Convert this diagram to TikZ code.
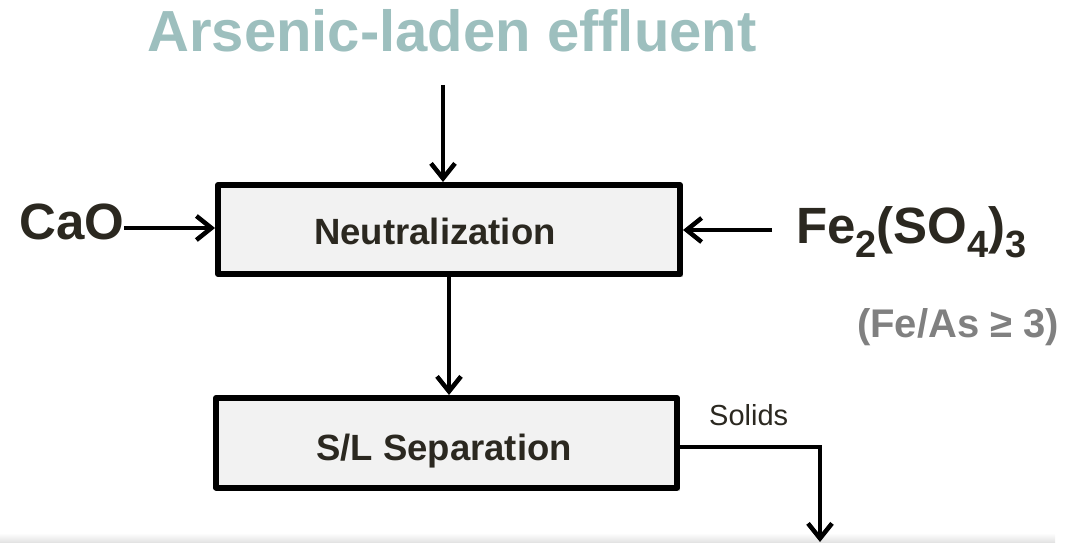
\documentclass[tikz,border=0pt]{standalone}
\usepackage{fontspec}
\setmainfont{Liberation Sans}
\usetikzlibrary{arrows.meta,shadows}

\definecolor{titleteal}{RGB}{157,191,190}
\definecolor{inkdark}{RGB}{43,40,32}
\definecolor{notegrey}{RGB}{128,128,128}
\definecolor{boxfill}{RGB}{242,242,242}

% lowered chemical index
\newcommand{\chemidx}[1]{\raisebox{-14pt}{\fontsize{38}{38}\selectfont #1}}

\begin{document}
\begin{tikzpicture}[x=1pt,y=-1pt,
  flow/.style={draw=black, line width=4.5pt,
    -{Straight Barb[length=15pt,width=24pt,line width=4.5pt]}},
  procbox/.style={draw=black, line width=6pt, fill=boxfill,
    line join=round, inner sep=0pt,
    drop shadow={shadow xshift=3pt, shadow yshift=-3pt, opacity=0.4}},
  boxtext/.style={anchor=base, text=inkdark,
    font=\fontsize{36.5}{40}\selectfont\bfseries, inner sep=0pt},
  bigchem/.style={anchor=base west, text=inkdark,
    font=\fontsize{51}{54}\selectfont\bfseries, inner sep=0pt},
]
\useasboundingbox (0,0) rectangle (1072,543);

% faint floor strip along the lower edge
\shade[top color=white, bottom color=black!12] (0,533) rectangle (1055,543);

% title
\node[anchor=base, text=titleteal, inner sep=0pt,
      font=\fontsize{58}{62}\selectfont\bfseries] (title) at (452,52)
      {Arsenic-laden effluent};

% process units
\node[procbox, minimum width=462pt, minimum height=89pt] (neut) at (449,229.5) {};
\node[boxtext] (neuttxt) at (435,244) {Neutralization};

\node[procbox, minimum width=461pt, minimum height=89.5pt] (sl) at (446.5,442.75) {};
\node[boxtext] (sltxt) at (444,460) {S/L Separation};

% reagents
\node[bigchem] (cao) at (19,239) {CaO};
\node[bigchem] (fes) at (796,243) {Fe\chemidx{2}(SO\chemidx{4})\chemidx{3}};
\node[anchor=base west, text=notegrey, inner sep=0pt,
      font=\fontsize{40}{44}\selectfont\bfseries] (ratio) at (857,337)
      {(Fe/As ≥ 3)};

% solids label
\node[anchor=base west, text=inkdark, inner sep=0pt,
      font=\fontsize{29}{32}\selectfont] (solids) at (709,425) {Solids};

% connectors
\coordinate (feed) at (443,85);
\coordinate (fesend) at (772,230);
\coordinate (solidsout) at (820,542);

\draw[flow] (feed) -- (feed |- neut.north);
\draw[flow] (cao.east |- 0,228) -- (neut.west |- 0,228);
\draw[flow] (fesend) -- (neut.east |- fesend);
\draw[flow] (neut.south) -- (neut.south |- sl.north);
\draw[flow] (sl.east |- 0,447) -| (solidsout);
\end{tikzpicture}
\end{document}
